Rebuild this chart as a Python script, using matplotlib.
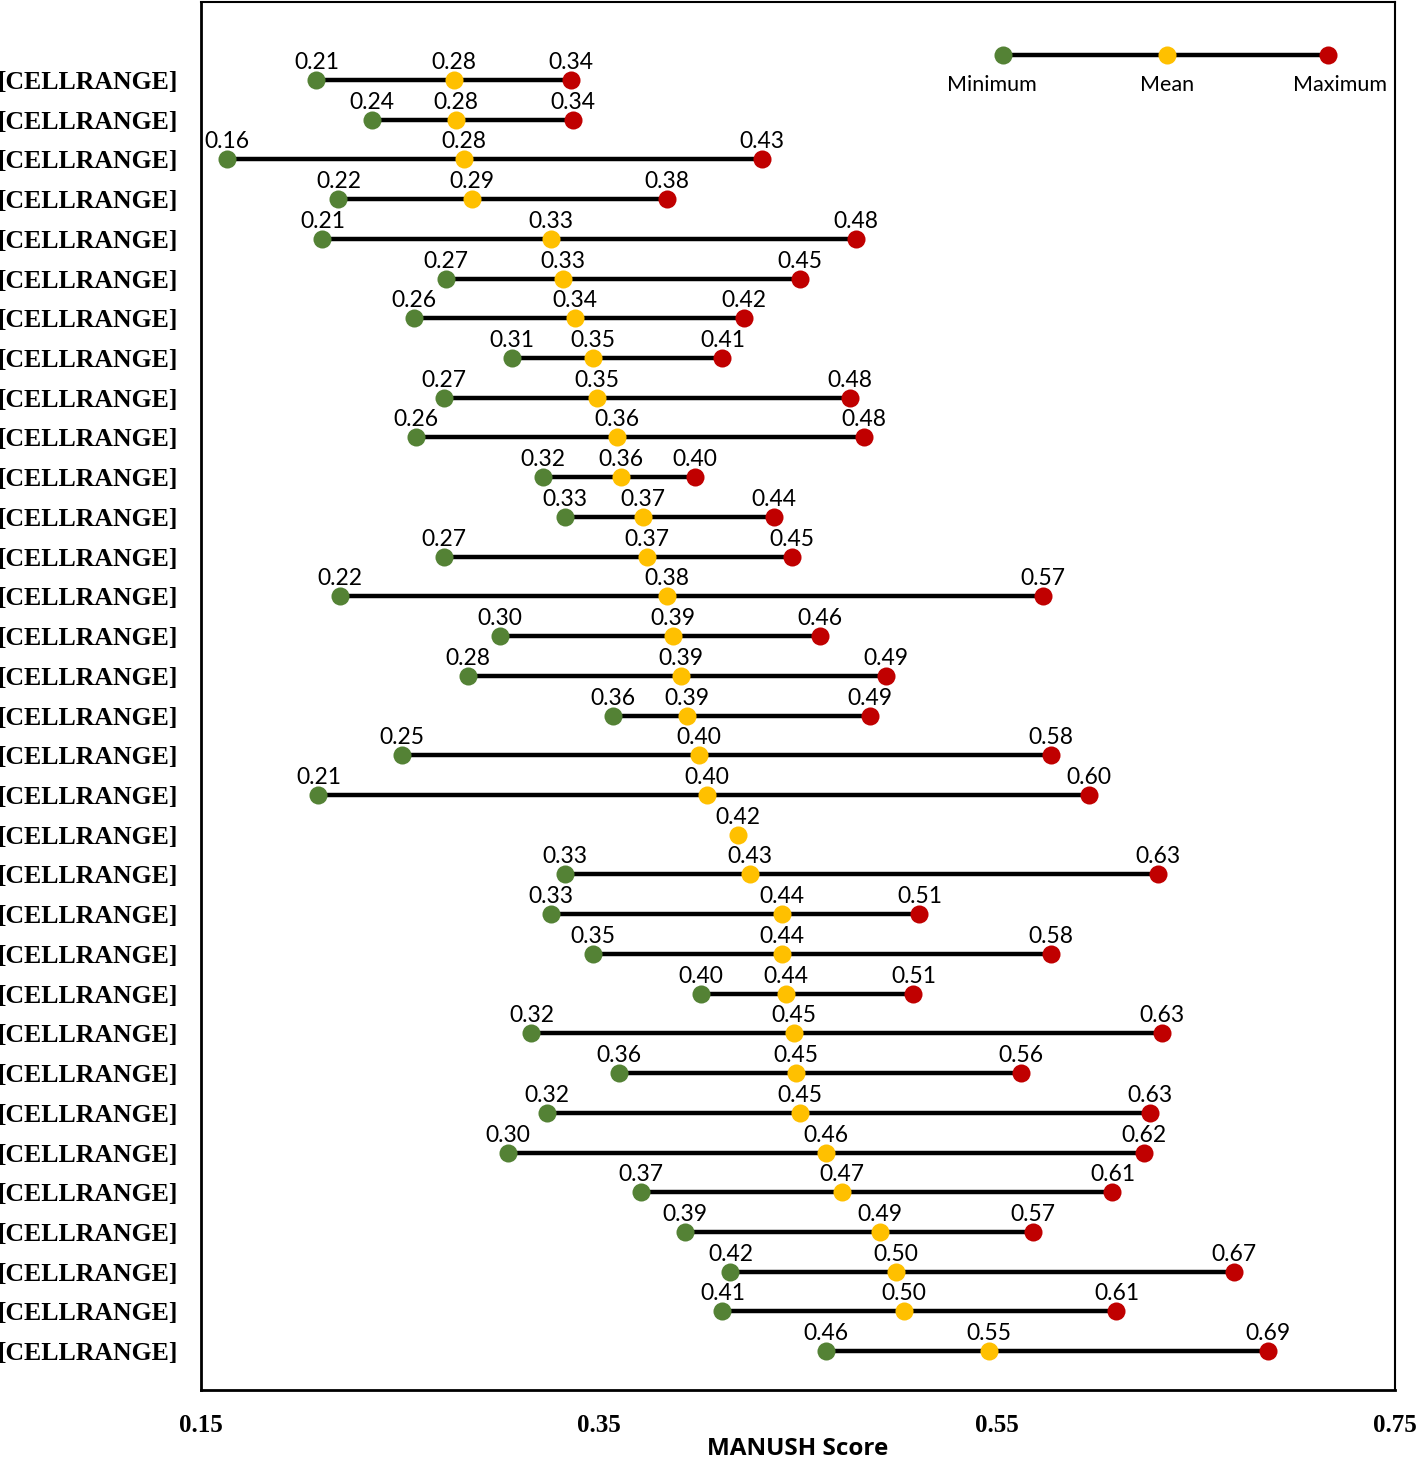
import numpy as np
import matplotlib.pyplot as plt

# one row per category, top to bottom
labels = ["[CELLRANGE]"] * 33

minimum = [0.208, 0.236, 0.163, 0.219, 0.211, 0.273, 0.257, 0.306, 0.272, 0.258,
           0.322, 0.333, 0.272, 0.220, 0.300, 0.284, 0.357, 0.251, 0.209, np.nan,
           0.333, 0.326, 0.347, 0.401, 0.316, 0.360, 0.324, 0.304, 0.371, 0.393,
           0.416, 0.412, 0.464]
mean = [0.277, 0.278, 0.282, 0.286, 0.326, 0.332, 0.338, 0.347, 0.349, 0.359,
        0.361, 0.372, 0.374, 0.384, 0.387, 0.391, 0.394, 0.400, 0.404, 0.420,
        0.426, 0.442, 0.442, 0.444, 0.448, 0.449, 0.451, 0.464, 0.472, 0.491,
        0.499, 0.503, 0.546]
maximum = [0.336, 0.337, 0.432, 0.384, 0.479, 0.451, 0.423, 0.412, 0.476, 0.483,
           0.398, 0.438, 0.447, 0.573, 0.461, 0.494, 0.486, 0.577, 0.596, np.nan,
           0.631, 0.511, 0.577, 0.508, 0.633, 0.562, 0.627, 0.624, 0.608, 0.568,
           0.669, 0.610, 0.686]

x_ticks = [0.15, 0.35, 0.55, 0.75]

GREEN = "#548235"
YELLOW = "#FFC000"
RED = "#C00000"

fig = plt.figure(figsize=(14.18, 14.60), dpi=100)
ax = fig.add_axes([0.1418, 0.0479, 0.842, 0.9507])

y = np.arange(len(labels))
lo = np.array(minimum)
mid = np.array(mean)
hi = np.array(maximum)

# connecting bars
ax.hlines(y, lo, hi, color="black", lw=3.2, zorder=1)

label_font = dict(family="Lato", fontsize=16.5, ha="center", va="bottom")
for vals, col in ((lo, GREEN), (mid, YELLOW), (hi, RED)):
    ax.plot(vals, y, "o", color=col, ms=13, mec="none", zorder=3)
    for xv, yv in zip(vals, y):
        if np.isnan(xv):
            continue
        ax.annotate(f"{xv:.2f}", (xv, yv), xytext=(0, 5),
                    textcoords="offset points", **label_font)

ax.set_xlim(0.15, 0.75)
ax.set_ylim(32.98, -1.96)
ax.set_xticks(x_ticks)
ax.set_xticklabels([f"{t:.2f}" for t in x_ticks], family="Liberation Serif",
                   fontweight="bold", fontsize=18)
ax.set_yticks(y)
ax.set_yticklabels(labels, family="Liberation Serif", fontweight="bold",
                   fontsize=18.5)
ax.tick_params(axis="x", length=0, pad=17)
ax.tick_params(axis="y", length=0, pad=17)
for s in ax.spines.values():
    s.set_color("black")
    s.set_linewidth(1.5)
ax.spines["left"].set_linewidth(2)
ax.spines["bottom"].set_linewidth(2)

ax.set_xlabel("MANUSH Score", family="Open Sans", fontweight="bold",
              fontsize=17.5, labelpad=0)

# custom legend in the top-right corner
lx = [0.672, 0.809, 0.944]
ly = 0.9618
ax.plot([lx[0], lx[2]], [ly, ly], color="black", lw=3.2,
        transform=ax.transAxes, zorder=1)
for xx, col, name in zip(lx, (GREEN, YELLOW, RED), ("Minimum", "Mean", "Maximum")):
    ax.plot(xx, ly, "o", color=col, ms=13, mec="none",
            transform=ax.transAxes, zorder=3)
    ax.text(xx - 0.01 if name == "Minimum" else xx + (0.01 if name == "Maximum" else 0),
            0.94, name, transform=ax.transAxes, family="Lato",
            fontsize=15.5, ha="center", va="center")

fig.savefig("out.png", dpi=100)
